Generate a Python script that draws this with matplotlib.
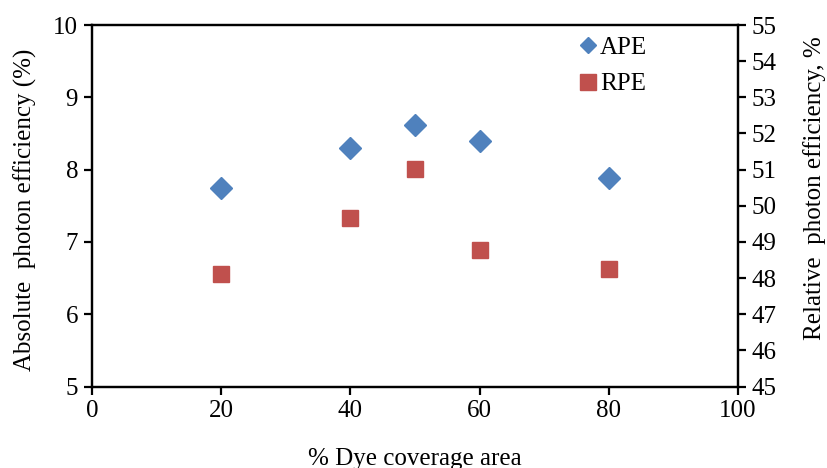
import matplotlib
matplotlib.use("Agg")
import matplotlib.pyplot as plt
from matplotlib.lines import Line2D

coverage = [20, 40, 50, 60, 80]
ape = [7.74, 8.30, 8.61, 8.39, 7.89]
rpe = [48.12, 49.65, 51.03, 48.78, 48.25]
x_ticks = [0, 20, 40, 60, 80, 100]
left_ticks = [5, 6, 7, 8, 9, 10]
right_ticks = list(range(45, 56))

plt.rcParams['font.family'] = ['Liberation Serif', 'DejaVu Serif']
fs = 18
W, H = 827, 468

fig = plt.figure(figsize=(8.27, 4.68), dpi=100)
ax = fig.add_axes([92/W, 1-386.5/H, (738-92)/W, (386.5-25)/H])
ax2 = ax.twinx()

blue, red = '#4F81BD', '#C0504D'
ax.plot(coverage, ape, linestyle='none', marker='D', ms=11.2, color=blue)
ax2.plot(coverage, rpe, linestyle='none', marker='s', ms=12, color=red)

ax.set_xlim(0, 100)
ax.set_ylim(5, 10)
ax2.set_ylim(45, 55)
ax.set_xticks(x_ticks)
ax.set_yticks(left_ticks)
ax2.set_yticks(right_ticks)

for a in (ax, ax2):
    for s in a.spines.values():
        s.set_linewidth(1.6)
    a.tick_params(direction='out', length=6, width=1.6, labelsize=fs, pad=4)

fig.text(415/W, 1-464.5/H, '% Dye coverage area', fontsize=fs, ha='center', va='baseline')
fig.text(25/W, 1-210/H, 'Absolute  photon efficiency (%)', fontsize=fs,
         rotation=90, ha='center', va='center')
fig.text(815/W, 1-188/H, 'Relative  photon efficiency, %', fontsize=fs,
         rotation=90, ha='center', va='center')

h1 = Line2D([], [], linestyle='none', marker='D', ms=8.6, color=blue)
h2 = Line2D([], [], linestyle='none', marker='s', ms=11, color=red)
leg = fig.legend(handles=[h1, h2], labels=['APE', 'RPE'], loc='upper left',
                 bbox_to_anchor=(579/W, 1-36/H),
                 frameon=False, fontsize=fs, handlelength=0.7,
                 handletextpad=0.15, labelspacing=0.58, borderaxespad=0.0, borderpad=0.0)

fig.savefig('out.png', dpi=100)
